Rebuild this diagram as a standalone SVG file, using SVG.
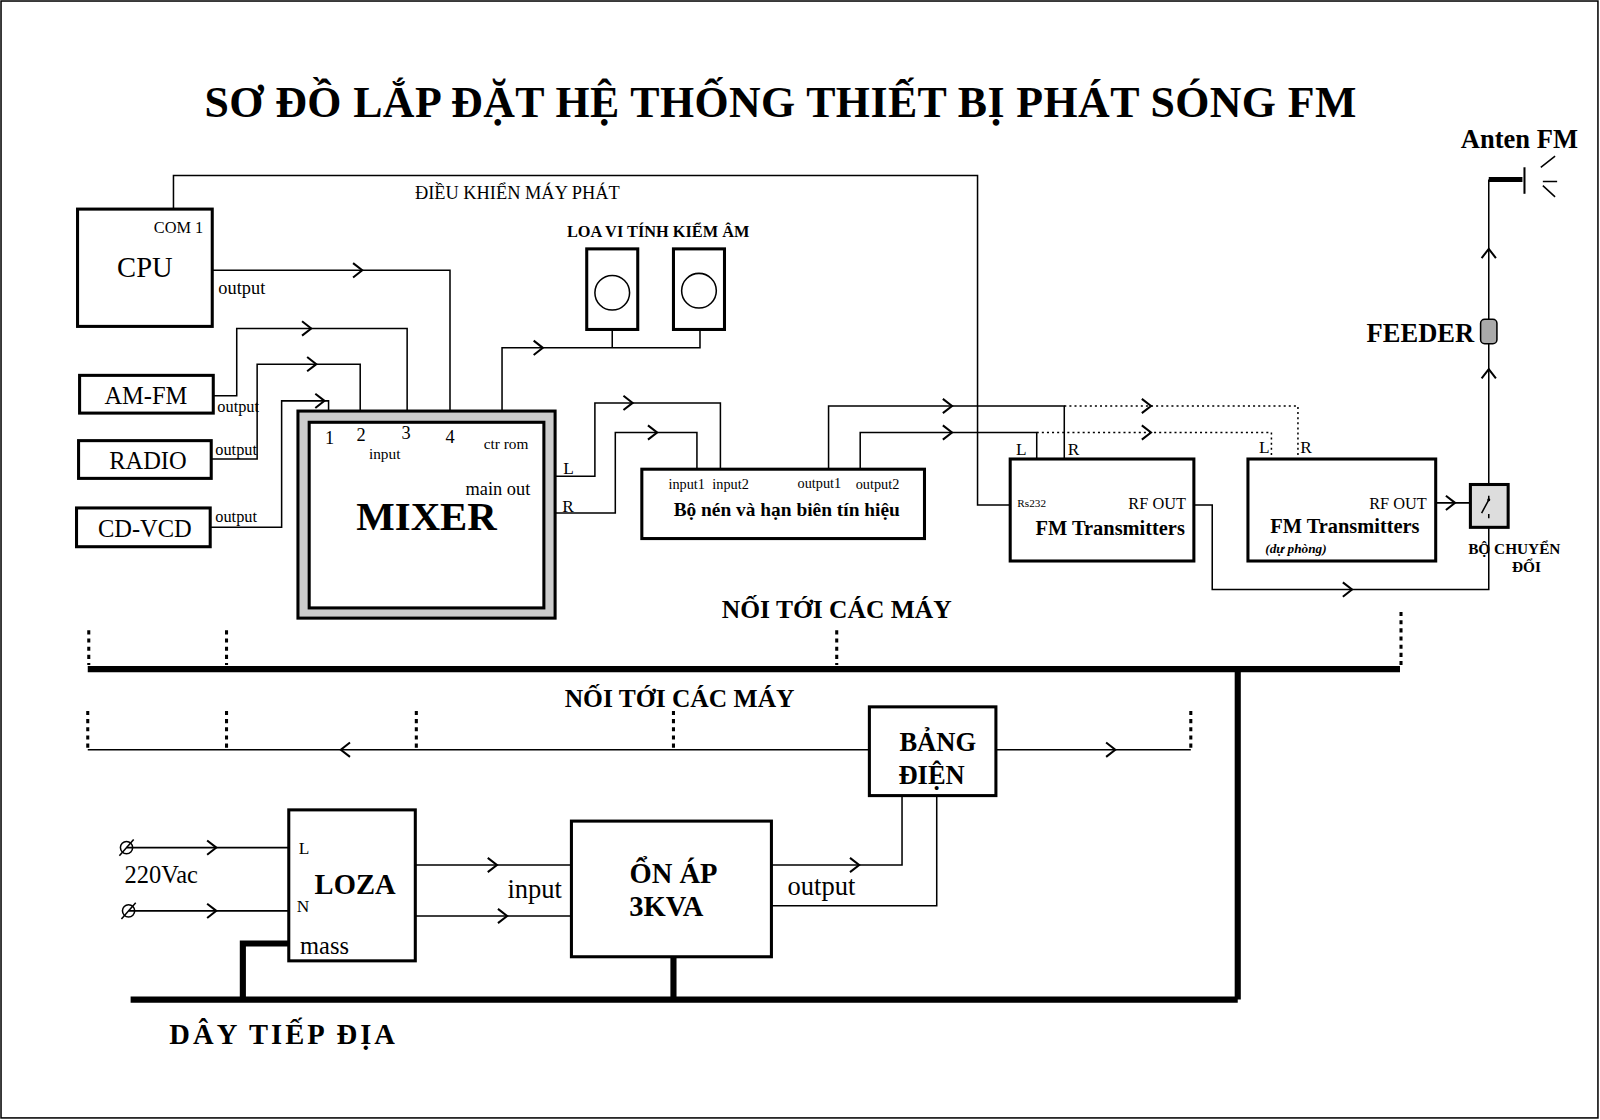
<svg xmlns="http://www.w3.org/2000/svg" xmlns:xlink="http://www.w3.org/1999/xlink" width="1600" height="1120" viewBox="0 0 1600 1120">
<style>
text{font-family:"Liberation Serif","DejaVu Serif",serif;fill:#000}
.b{font-weight:bold}
.box{fill:#fff;stroke:#000;stroke-width:3}
.ln{fill:none;stroke:#000;stroke-width:1.5}
.dt{fill:none;stroke:#000;stroke-width:1.5;stroke-dasharray:2,3}
.dv{fill:none;stroke:#000;stroke-width:3;stroke-dasharray:4,4}
.tk{fill:none;stroke:#000;stroke-width:6}
.ar{fill:none;stroke:#000;stroke-width:2}
</style>
<defs><path id="ar" class="ar" d="M-9,-7 L0,0 L-9,7"/></defs>
<rect x="0" y="0" width="1600" height="1120" fill="#fff"/>
<g transform="scale(1.0204,1.02)">
<rect x="1" y="1" width="1565" height="1095" fill="none" stroke="#000" stroke-width="1.5"/>
<text x="765" y="115" class="b" font-size="43" letter-spacing="0.4" text-anchor="middle">SƠ ĐỒ LẮP ĐẶT HỆ THỐNG THIẾT BỊ PHÁT SÓNG FM</text>

<g id="connectors">
<path class="ln" d="M170,205 V172 H958 V495 H990"/>
<path class="ln" d="M208,265 H441 V405"/>
<path class="ln" d="M209,388 H232 V322 H399 V405"/>
<path class="ln" d="M207,450 H252 V357 H353 V405"/>
<path class="ln" d="M206,517 H276 V393 H322 V405"/>
<path class="ln" d="M492,403 V341 H686 V323 M600,323 V341"/>
<path class="ln" d="M544,467 H583 V395 H706 V460"/>
<path class="ln" d="M544,503 H603 V424 H683 V460"/>
<path class="ln" d="M812,460 V398 H1043 V450"/>
<path class="ln" d="M843,460 V424 H1016 V450"/>
<path class="dt" d="M1043,398 H1272 V450"/>
<path class="dt" d="M1016,424 H1246 V450"/>
<path class="ln" d="M1170,495 H1188 V578 H1459 V517"/>
<path class="ln" d="M1407,493 H1440"/>
<path class="ln" d="M1459,475 V337 M1459,313 V176"/>
<path class="ln" d="M124,831 H283 M126,893 H283"/>
<path class="ln" d="M407,848 H560 M407,898 H560"/>
<path class="ln" d="M756,848 H884 V780 M756,888 H918 V780"/>
<path class="ln" d="M86,735 H852 M977,735 H1167"/>
<path class="tk" d="M86,656 H1372 M1213,656 V980 M128,980 H1213 M283,925 H238 V980 M660,938 V980"/>
<path class="dv" d="M87,618 V652 M222,618 V652 M820,618 V652 M1373,600 V652"/>
<path class="dv" d="M86,697 V733 M222,697 V733 M408,697 V733 M660,697 V733 M1167,697 V733"/>
<use xlink:href="#ar" x="355" y="265"/>
<use xlink:href="#ar" x="305" y="322"/>
<use xlink:href="#ar" x="310" y="357"/>
<use xlink:href="#ar" x="318" y="393"/>
<use xlink:href="#ar" x="532" y="341"/>
<use xlink:href="#ar" x="620" y="395"/>
<use xlink:href="#ar" x="644" y="424"/>
<use xlink:href="#ar" x="933" y="398"/>
<use xlink:href="#ar" x="933" y="424"/>
<use xlink:href="#ar" x="1128" y="398"/>
<use xlink:href="#ar" x="1128" y="424"/>
<use xlink:href="#ar" x="1325" y="578"/>
<use xlink:href="#ar" x="1426" y="493"/>
<use xlink:href="#ar" transform="translate(1459,362) rotate(-90)"/>
<use xlink:href="#ar" transform="translate(1459,244) rotate(-90)"/>
<use xlink:href="#ar" x="212" y="831"/>
<use xlink:href="#ar" x="212" y="893"/>
<use xlink:href="#ar" x="487" y="848"/>
<use xlink:href="#ar" x="497" y="898"/>
<use xlink:href="#ar" x="842" y="848"/>
<use xlink:href="#ar" transform="translate(334,735) rotate(180)"/>
<use xlink:href="#ar" x="1093" y="735"/>
</g>

<text x="507" y="195" font-size="18" text-anchor="middle">ĐIỀU KHIỂN MÁY PHÁT</text>

<g id="cpu"><rect class="box" x="76" y="205" width="132" height="115"/>
<text x="142" y="272" font-size="28" text-anchor="middle">CPU</text>
<text x="175" y="228" font-size="16" text-anchor="middle">COM 1</text>
<text x="214" y="288" font-size="18">output</text></g>

<g id="amfm"><rect class="box" x="78" y="368" width="131" height="37"/>
<text x="143" y="396" font-size="24" text-anchor="middle">AM-FM</text>
<text x="213" y="404" font-size="16">output</text></g>
<g id="radio"><rect class="box" x="77" y="432" width="130" height="37"/>
<text x="145" y="460" font-size="24" text-anchor="middle">RADIO</text>
<text x="211" y="446" font-size="16">output</text></g>
<g id="cdvcd"><rect class="box" x="75" y="498" width="131" height="38"/>
<text x="142" y="526" font-size="24" text-anchor="middle">CD-VCD</text>
<text x="211" y="512" font-size="16">output</text></g>

<g id="mixer"><rect x="292" y="403" width="252" height="203" fill="#ccc" stroke="#000" stroke-width="3"/>
<rect class="box" x="303" y="414" width="230" height="182"/>
<text x="323" y="435" font-size="18" text-anchor="middle">1</text>
<text x="354" y="432" font-size="18" text-anchor="middle">2</text>
<text x="398" y="430" font-size="18" text-anchor="middle">3</text>
<text x="441" y="434" font-size="18" text-anchor="middle">4</text>
<text x="377" y="450" font-size="15" text-anchor="middle">input</text>
<text x="496" y="440" font-size="15" text-anchor="middle">ctr rom</text>
<text x="488" y="485" font-size="18" text-anchor="middle">main out</text>
<text x="418" y="520" font-size="40" class="b" text-anchor="middle">MIXER</text>
<text x="552" y="465" font-size="17">L</text>
<text x="551" y="502" font-size="17">R</text></g>

<g id="speakers"><rect class="box" x="575" y="244" width="50" height="79"/><circle cx="600" cy="287" r="17" fill="#fff" stroke="#000" stroke-width="1.5"/>
<rect class="box" x="660" y="244" width="50" height="79"/><circle cx="685" cy="285" r="17" fill="#fff" stroke="#000" stroke-width="1.5"/>
<text x="645" y="232" font-size="16" class="b" text-anchor="middle">LOA VI TÍNH KIỂM ÂM</text></g>

<g id="compressor"><rect class="box" x="629" y="460" width="277" height="68"/>
<text x="673" y="479" font-size="14" text-anchor="middle">input1</text>
<text x="716" y="479" font-size="14" text-anchor="middle">input2</text>
<text x="803" y="478" font-size="14" text-anchor="middle">output1</text>
<text x="860" y="479" font-size="14" text-anchor="middle">output2</text>
<text x="771" y="506" font-size="19" class="b" text-anchor="middle">Bộ nén và hạn biên tín hiệu</text></g>

<g id="tx1"><rect class="box" x="990" y="450" width="180" height="100"/>
<text x="1001" y="446" font-size="17" text-anchor="middle">L</text>
<text x="1052" y="446" font-size="17" text-anchor="middle">R</text>
<text x="997" y="497" font-size="11">Rs232</text>
<text x="1134" y="499" font-size="16" text-anchor="middle">RF OUT</text>
<text x="1088" y="525" font-size="20" class="b" text-anchor="middle">FM Transmitters</text></g>

<g id="tx2"><rect class="box" x="1223" y="450" width="184" height="100"/>
<text x="1239" y="444" font-size="17" text-anchor="middle">L</text>
<text x="1280" y="444" font-size="17" text-anchor="middle">R</text>
<text x="1370" y="499" font-size="16" text-anchor="middle">RF OUT</text>
<text x="1318" y="523" font-size="20" class="b" text-anchor="middle">FM Transmitters</text>
<text x="1240" y="542" font-size="13" class="b" font-style="italic">(dự phòng)</text></g>

<g id="switch"><rect x="1441" y="475" width="37" height="42" fill="#ddd" stroke="#000" stroke-width="3"/>
<path class="ln" d="M1459,486 V490 M1459,504 V508 M1459,490 L1452,503" stroke-width="1"/>
<circle cx="1459" cy="490" r="1.5" fill="#000"/>
<text x="1484" y="543" font-size="15" class="b" text-anchor="middle">BỘ CHUYỂN</text>
<text x="1496" y="561" font-size="15" class="b" text-anchor="middle">ĐỔI</text></g>

<g id="feeder"><rect x="1451" y="313" width="16" height="24" rx="4" fill="#aaa" stroke="#000" stroke-width="1.5"/>
<text x="1392" y="335" font-size="26" class="b" text-anchor="middle">FEEDER</text></g>

<g id="antenna"><path d="M1459,176 H1492" stroke="#000" stroke-width="5"/>
<path d="M1494,164 V190" stroke="#000" stroke-width="2"/>
<path class="ln" d="M1510,164 L1524,153 M1512,178 L1526,178 M1512,182 L1524,193"/>
<text x="1489" y="145" font-size="26" class="b" text-anchor="middle">Anten FM</text></g>

<text x="820" y="606" font-size="25" class="b" text-anchor="middle">NỐI TỚI CÁC MÁY</text>
<text x="666" y="693" font-size="25" class="b" text-anchor="middle">NỐI TỚI CÁC MÁY</text>

<g id="bangdien"><rect class="box" x="852" y="693" width="124" height="87"/>
<text x="919" y="736" font-size="26" class="b" text-anchor="middle">BẢNG</text>
<text x="913" y="769" font-size="26" class="b" text-anchor="middle">ĐIỆN</text></g>

<g id="loza"><rect class="box" x="283" y="794" width="124" height="148"/>
<text x="298" y="837" font-size="17" text-anchor="middle">L</text>
<text x="297" y="894" font-size="17" text-anchor="middle">N</text>
<text x="348" y="876" font-size="28" class="b" text-anchor="middle">LOZA</text>
<text x="318" y="935" font-size="24" text-anchor="middle">mass</text></g>

<g id="ac"><circle cx="124" cy="831" r="6" fill="none" stroke="#000" stroke-width="1.5"/><path class="ln" d="M117,839 L131,823"/>
<circle cx="126" cy="893" r="6" fill="none" stroke="#000" stroke-width="1.5"/><path class="ln" d="M119,901 L133,885"/>
<text x="158" y="866" font-size="24" text-anchor="middle">220Vac</text></g>

<text x="524" y="880" font-size="26" text-anchor="middle">input</text>
<g id="onap"><rect class="box" x="560" y="805" width="196" height="133"/>
<text x="660" y="866" font-size="28" class="b" text-anchor="middle">ỔN ÁP</text>
<text x="653" y="898" font-size="28" class="b" text-anchor="middle">3KVA</text></g>
<text x="805" y="877" font-size="26" text-anchor="middle">output</text>

<text x="278" y="1024" font-size="28" class="b" letter-spacing="3" text-anchor="middle">DÂY TIẾP ĐỊA</text>
</g>
</svg>
